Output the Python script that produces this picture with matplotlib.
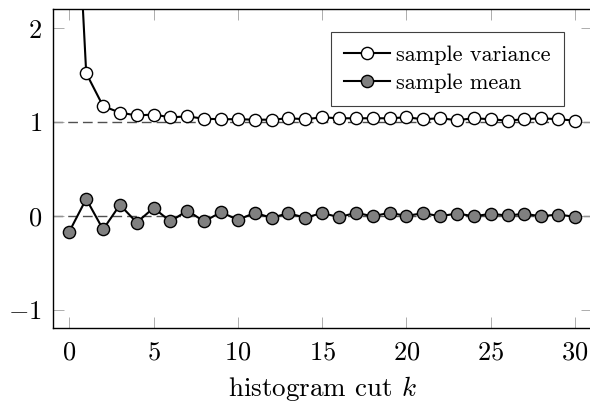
import matplotlib
matplotlib.use("Agg")
import matplotlib.pyplot as plt

plt.rcParams['font.family'] = 'serif'
plt.rcParams['font.serif'] = ['cmr10']
plt.rcParams['mathtext.fontset'] = 'cm'
plt.rcParams['axes.formatter.use_mathtext'] = True

# data
k = list(range(31))
variance = [5.0, 1.52, 1.17, 1.10, 1.07, 1.08, 1.05, 1.06, 1.035, 1.03, 1.03,
            1.025, 1.025, 1.04, 1.03, 1.05, 1.04, 1.04, 1.04, 1.04, 1.05,
            1.03, 1.04, 1.02, 1.04, 1.03, 1.015, 1.03, 1.04, 1.03, 1.015]
mean = [-0.167, 0.18, -0.145, 0.117, -0.071, 0.085, -0.06, 0.057, -0.06, 0.04,
        -0.043, 0.032, -0.02, 0.028, -0.02, 0.03, -0.014, 0.032, -0.004, 0.032,
        0.0, 0.028, -0.004, 0.025, -0.004, 0.021, 0.004, 0.021, -0.004, 0.014, -0.01]
xticks = [0, 5, 10, 15, 20, 25, 30]
yticks = [-1, 0, 1, 2]

fig = plt.figure(figsize=(5.9, 4.03), dpi=100)
ax = fig.add_axes([0.089, 0.185, 0.914, 0.7916])

# reference lines
ax.axhline(1, color='#505050', lw=1.0, ls=(0, (7, 3.6)), zorder=1)
ax.axhline(0, color='#505050', lw=1.0, ls=(0, (7, 3.6)), zorder=1)

ax.plot(k, variance, color='black', lw=1.5, marker='o', ms=8.8,
        mfc='white', mec='black', mew=1.0, label='sample variance', zorder=3)
ax.plot(k, mean, color='black', lw=1.5, marker='o', ms=8.8,
        mfc='#808080', mec='black', mew=1.0, label='sample mean', zorder=3)

ax.set_xlim(-1, 31)
ax.set_ylim(-1.2, 2.2)
ax.set_xticks(xticks)
ax.set_yticks(yticks)
ax.tick_params(direction='in', length=8, width=0.6, color='#a0a0a0',
               top=True, right=True, labelsize=19)
ax.tick_params(axis='x', pad=9)
ax.tick_params(axis='y', pad=7.5)
for s in ax.spines.values():
    s.set_linewidth(1.0)

ax.set_xlabel('histogram cut $k$', fontsize=19.5, labelpad=7)

leg = ax.legend(loc='upper right', bbox_to_anchor=(0.9487, 0.93),
                borderaxespad=0, fancybox=False, fontsize=16,
                handlelength=2.05, handletextpad=0.3, labelspacing=0.38,
                borderpad=0.6, numpoints=1, framealpha=1)
leg.get_frame().set_edgecolor('#404040')
leg.get_frame().set_linewidth(0.8)

fig.savefig('out.png', dpi=100)
